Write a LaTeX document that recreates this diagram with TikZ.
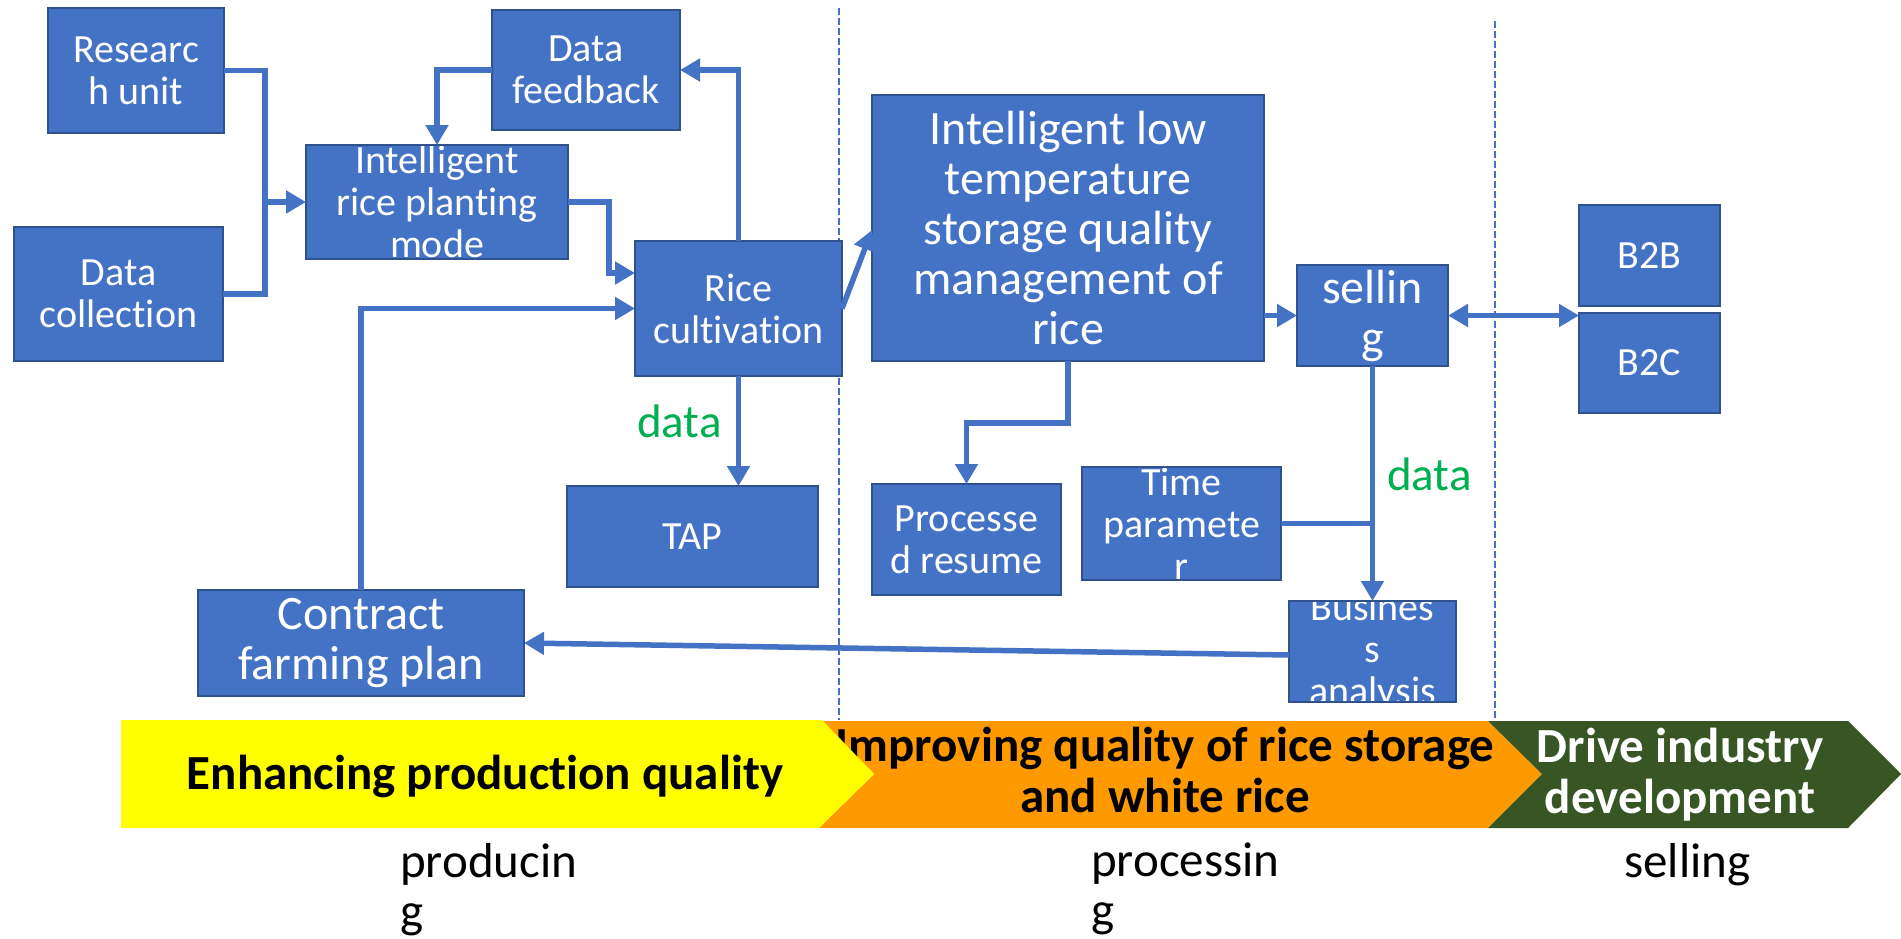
\documentclass[tikz,border=0pt]{standalone}
\usepackage{fontspec}
\setmainfont{Carlito}[Ligatures={NoCommon,NoRequired,NoContextual}]
\usetikzlibrary{arrows.meta}
\definecolor{boxblue}{HTML}{4472C4}
\definecolor{boxedge}{HTML}{2F528F}
\definecolor{datagreen}{HTML}{00B050}
\definecolor{chyellow}{HTML}{FFFF00}
\definecolor{chorange}{HTML}{FF9900}
\definecolor{chgreen}{HTML}{375623}
\tikzset{
  box/.style={draw=boxedge, line width=2pt, fill=boxblue, inner sep=0pt, outer sep=0pt},
  boxtxt/.style={text=white, align=center, inner sep=0pt, font=\fontsize{40}{42}\selectfont},
  bigtxt/.style={text=white, align=center, inner sep=0pt, font=\fontsize{48}{50}\selectfont},
  conn/.style={draw=boxblue, line width=5.5pt},
  arr/.style={conn, -{Triangle[length=20pt,width=22pt]}},
  darr/.style={conn, {Triangle[length=20pt,width=22pt]}-{Triangle[length=20pt,width=22pt]}},
  sepline/.style={draw=boxblue, line width=1.2pt, dash pattern=on 7pt off 3pt},
  datalbl/.style={text=datagreen, font=\fontsize{47}{50}\selectfont, inner sep=0pt, anchor=base west},
  chtxt/.style={align=center, inner sep=0pt, font=\bfseries\fontsize{49}{51}\selectfont},
  stagetxt/.style={align=left, inner sep=0pt, anchor=north west, font=\fontsize{49}{50}\selectfont},
}
\begin{document}
\begin{tikzpicture}[x=1pt,y=-1pt]
\useasboundingbox (0,0) rectangle (1901,938);

% separators
\draw[sepline] (839,8) -- (839,720);
\draw[sepline] (1495,21) -- (1495,720);

% boxes
\node[box, minimum width=176pt, minimum height=125pt, path picture={\node[boxtxt] (research-t) at (path picture bounding box.center) {Researc\\h unit};}] (research) at (136,70.5) {};
\node[box, minimum width=188pt, minimum height=120pt, path picture={\node[boxtxt] (feedback-t) at (path picture bounding box.center) {Data\\feedback};}] (feedback) at (586,70) {};
\node[box, minimum width=262pt, minimum height=114pt, path picture={\node[boxtxt] (intel-t) at (path picture bounding box.center) {Intelligent\\rice planting\\mode};}] (intel) at (437,202) {};
\node[box, minimum width=209pt, minimum height=134pt, path picture={\node[boxtxt] (datacol-t) at (path picture bounding box.center) {Data\\collection};}] (datacol) at (118.5,294) {};
\node[box, minimum width=207pt, minimum height=135pt, path picture={\node[boxtxt] (rice-t) at (path picture bounding box.center) {Rice\\cultivation};}] (rice) at (738.5,308.5) {};
\node[box, minimum width=326pt, minimum height=106pt, path picture={\node[bigtxt] (contract-t) at (path picture bounding box.center) {Contract\\farming plan};}] (contract) at (361,643) {};
\node[box, minimum width=251pt, minimum height=101pt, path picture={\node[boxtxt] (tap-t) at (path picture bounding box.center) {TAP};}] (tap) at (692.5,536.5) {};
\node[box, minimum width=392pt, minimum height=266pt, path picture={\node[bigtxt] (lowtemp-t) at (path picture bounding box.center) {Intelligent low\\temperature\\storage quality\\management of\\rice};}] (lowtemp) at (1068,228) {};
\node[box, minimum width=151pt, minimum height=101pt, path picture={\node[bigtxt] (selling-t) at (path picture bounding box.center) {sellin\\g};}] (selling) at (1372.5,315.5) {};
\node[box, minimum width=141pt, minimum height=101pt, path picture={\node[boxtxt] (b2b-t) at (path picture bounding box.center) {B2B};}] (b2b) at (1649.5,255.5) {};
\node[box, minimum width=141pt, minimum height=100pt, path picture={\node[boxtxt] (b2c-t) at (path picture bounding box.center) {B2C};}] (b2c) at (1649.5,363) {};
\node[box, minimum width=189pt, minimum height=111pt, path picture={\node[boxtxt] (processed-t) at (path picture bounding box.center) {Processe\\d resume};}] (processed) at (966.5,539.5) {};
\node[box, minimum width=199pt, minimum height=113pt, path picture={\node[boxtxt] (timep-t) at (path picture bounding box.center) {Time\\paramete\\r};}] (timep) at (1181.5,523.5) {};
\node[box, minimum width=167pt, minimum height=101pt, path picture={\node[boxtxt] (business-t) at (path picture bounding box.center) {Busines\\s\\analysis};}] (business) at (1372.5,651.5) {};

% connectors
\coordinate (j1) at (265,202);
\draw[conn] (research.east) -| (j1) |- (datacol.east);
\draw[arr] (j1) -- (intel.west);
\draw[arr] (feedback.west) -| (intel.north);
\draw[arr] (intel.east) -- ++(41,0) |- ([yshift=35.5pt]rice.west);
\draw[arr] (rice.north) |- (feedback.east);
\draw[arr] (contract.north) |- (rice.west);
\draw[arr] (rice.south) -- (rice.south |- tap.north);
\draw[arr] (rice.east) -- ([yshift=-2pt]lowtemp.west);
\draw[arr] (lowtemp.east |- selling.west) -- (selling.west);
\draw[darr] (selling.east) -- (selling.east -| b2b.west);
\draw[arr] (lowtemp.south) -- ++(0,62) -| (processed.north);
\draw[arr] (selling.south) -- (business.north);
\draw[conn] (timep.east) -- (timep.east -| selling.south);
\draw[arr] ([yshift=-3.5pt]business.west) -- (contract.east);

% data labels
\node[datalbl] (data1) at (637,437) {data};
\node[datalbl] (data2) at (1387,490) {data};

% chevrons
\fill[chorange] (822,721) -- (1488,721) -- (1542,774) -- (1488,828) -- (819,828) -- (874,774) -- cycle;
\node[chtxt] (orange-t) at (1165,770) {Improving quality of rice storage\\and white rice};
\fill[chgreen] (1488,721) -- (1848,721) -- (1901,774) -- (1848,828) -- (1488,828) -- (1542,774) -- cycle;
\node[chtxt, text=white] (green-t) at (1680,774.5) {Drive industry\\development};
\fill[chyellow] (121,720) -- (822,720) -- (874,774) -- (819,828) -- (121,828) -- cycle;
\node[chtxt, anchor=base] (yellow-t) at (485,789) {Enhancing production quality};

% stage labels
\node[stagetxt] (producing) at (400,843) {producin\\g};
\node[stagetxt] (processing) at (1091,843) {processin\\g};
\node[stagetxt] (sellinglbl) at (1624,843) {selling};
\end{tikzpicture}
\end{document}
